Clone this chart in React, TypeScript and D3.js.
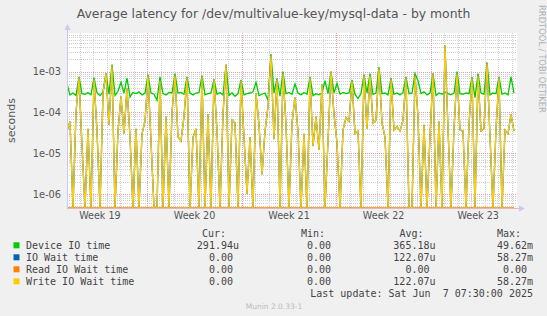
import React from 'react';
import * as d3 from 'd3';

const W = 547;
const H = 316;
const plot = { left: 67, right: 517, top: 33, bottom: 208 };

const title = 'Average latency for /dev/multivalue-key/mysql-data - by month';
const yAxisLabel = 'seconds';
const sideLabel = 'RRDTOOL / TOBI OETIKER';
const footer = 'Munin 2.0.33-1';
const lastUpdate = 'Last update: Sat Jun  7 07:30:00 2025';

// time axis
const timeStart = new Date(Date.UTC(2025, 4, 6, 1, 30));
const timeEnd = new Date(Date.UTC(2025, 5, 8, 9, 0));
const weekStarts = [
  new Date(Date.UTC(2025, 4, 12)),
  new Date(Date.UTC(2025, 4, 19)),
  new Date(Date.UTC(2025, 4, 26)),
  new Date(Date.UTC(2025, 5, 2)),
];
const weekLabels = ['Week 19', 'Week 20', 'Week 21', 'Week 22', 'Week 23'];
const weekLabelTimes = [
  new Date(Date.UTC(2025, 4, 8, 12)),
  new Date(Date.UTC(2025, 4, 15, 12)),
  new Date(Date.UTC(2025, 4, 22, 12)),
  new Date(Date.UTC(2025, 4, 29, 12)),
  new Date(Date.UTC(2025, 5, 5, 12)),
];
const sampleStepHours = 5.33;

// y axis (log)
const yDomain = [4.54e-7, 8.89e-3];
const yTickValues = [1e-6, 1e-5, 1e-4, 1e-3];
const yTickLabels = ['1e-06', '1e-05', '1e-04', '1e-03'];

// series (seconds)
const deviceIOTime = [
  5e-4, 2.7e-4, 3.0e-4, 2.6e-4, 7.5e-4, 2.9e-4, 2.8e-4, 3.1e-4, 2.7e-4, 7.2e-4,
  3.0e-4, 2.6e-4, 3.2e-4, 9.0e-4, 2.8e-4, 1.5e-3, 2.6e-4, 3.3e-4, 5.5e-4, 3.0e-4,
  7.0e-4, 2.4e-4, 3.1e-4, 2.9e-4, 3.2e-4, 2.7e-4, 3.0e-4, 8.5e-4, 3.0e-4, 2.8e-4,
  2.0e-4, 7.5e-4, 2.9e-4, 2.7e-4, 3.1e-4, 3.0e-4, 9.0e-4, 3.0e-4, 3.1e-4,
  2.8e-4, 7.5e-4, 3.0e-4, 2.7e-4, 3.0e-4, 3.1e-4, 8e-4, 2.7e-4, 2.9e-4, 3.0e-4,
  6.5e-4, 2.8e-4, 3.1e-4, 2.7e-4, 1.4e-3, 2.6e-4, 3.0e-4, 2.5e-4, 2.9e-4, 6.3e-4,
  2.7e-4, 2.9e-4, 3.0e-4, 3.2e-4, 5.5e-4, 2.6e-4, 2.8e-4, 3.0e-4, 2.0e-4, 2.7e-3,
  3.0e-4, 6.9e-4, 2.5e-4, 1.0e-3, 2.9e-4, 3.1e-4, 2.8e-4, 5e-4,
  3.0e-4, 2.7e-4, 3.1e-4, 2.8e-4, 7.5e-4, 2.6e-4, 2.9e-4, 2.7e-4, 3.0e-4, 6e-4,
  2.9e-4, 1.0e-3, 3.0e-4, 5.2e-4, 2.8e-4, 3.1e-4, 2.9e-4, 3.0e-4, 6.3e-4, 2.8e-4,
  2.2e-4, 2.9e-4, 8.5e-4, 3.0e-4, 9e-4, 2.8e-4, 3.0e-4, 1.3e-3, 2.9e-4, 3.0e-4,
  2.7e-4, 7e-4, 2.8e-4, 3.0e-4, 2.7e-4, 3.1e-4, 7.5e-4, 2.9e-4,
  3.0e-4, 9e-4, 6e-4, 2.9e-4, 3.2e-4, 2.7e-4, 3.0e-4, 9e-4, 2.6e-4, 3.0e-4,
  2.8e-4, 3.2e-4, 2.9e-4, 2.7e-4, 3.0e-4, 1.0e-3, 2.9e-4, 2.8e-4, 3.0e-4, 2.9e-4,
  7.5e-4, 2.3e-4, 9e-4, 3.0e-4, 2.8e-4, 1.7e-3, 2.7e-4, 3.0e-4, 2.9e-4, 7.5e-4,
  2.8e-4, 3.0e-4, 2.7e-4, 7.5e-4, 3.0e-4,
];

const writeIOWaitTime = [
  3.5e-5, 6e-5, 0, 1e-4, 7e-4, 1.5e-5, 0, 4e-5, 0, 6.5e-4,
  3.5e-5, 0, 3e-4, 9e-4, 5e-5, 1.4e-3, 0, 3.5e-5, 2.5e-4, 3e-5,
  4e-4, 2.5e-5, 0, 4e-5, 0, 3e-5, 6e-5, 8e-4, 2e-5, 0,
  0, 6e-4, 0, 8e-5, 0, 1e-4, 8e-4, 2.5e-5, 2e-5,
  8e-5, 7e-4, 0, 2.5e-5, 4e-5, 0, 7.5e-4, 0, 9e-5, 0,
  6.5e-4, 3.5e-5, 0, 9e-5, 1.5e-3, 0, 6.5e-5, 5.5e-5, 0, 6e-4,
  2.5e-5, 1e-6, 2.5e-5, 0, 3e-4, 5e-5, 3e-6, 3.5e-5, 1.4e-4, 2.5e-3,
  2.2e-5, 6.5e-4, 0, 9e-4, 5e-5, 0, 5.5e-5, 2.4e-4,
  3.5e-5, 0, 3e-5, 0, 7e-4, 1.5e-5, 8e-5, 1.2e-5, 5e-4, 0,
  2e-5, 1e-3, 9e-5, 1.8e-5, 0, 3.7e-5, 7.5e-5, 6e-5, 6e-4, 3e-5,
  3.5e-5, 0, 8e-4, 4e-5, 8e-4, 5.5e-5, 6.5e-5, 1.2e-3, 5.5e-5, 2.5e-5,
  0, 6.5e-4, 3.7e-5, 4.5e-5, 3.5e-5, 6.5e-5, 7e-4, 0,
  0, 8e-4, 8e-5, 0, 5e-5, 0, 2.5e-5, 9e-4, 0, 6e-5,
  0, 4.5e-3, 4e-5, 0, 4e-5, 9e-4, 3.7e-5, 3.5e-5, 0, 5e-5,
  7e-4, 0, 8e-4, 3.5e-5, 4e-5, 1.6e-3, 2.5e-5, 0, 4e-5, 7e-4,
  0, 3.7e-5, 3e-5, 9e-5, 3.5e-5,
];
const readIOWaitTime = new Array(writeIOWaitTime.length).fill(0);
const ioWaitTime = writeIOWaitTime;

const seriesNames = ['Device IO time', 'IO Wait time', 'Read IO Wait time', 'Write IO Wait time'];
const seriesColors = ['#00cc00', '#0066b3', '#ff8000', '#ffcc00'];
const curValues = ['291.94u', '0.00', '0.00', '0.00'];
const minValues = ['0.00', '0.00', '0.00', '0.00'];
const avgValues = ['365.18u', '122.07u', '0.00', '122.07u'];
const maxValues = ['49.62m', '58.27m', '0.00', '58.27m'];
const headers = ['Cur:', 'Min:', 'Avg:', 'Max:'];

const SANS = 'DejaVu Sans, sans-serif';
const MONO = 'DejaVu Sans Mono, monospace';

export default function App() {
  const x = d3.scaleTime().domain([timeStart, timeEnd]).range([plot.left, plot.right]);
  const y = d3.scaleLog().domain(yDomain).range([plot.bottom, plot.top]);
  const times = deviceIOTime.map((_, i) => new Date(timeStart.getTime() + i * sampleStepHours * 3600e3));
  const yv = (v: number) => (v > 0 ? y(Math.max(v, yDomain[0] * 0.5)) : plot.bottom);

  const mkLine = (vals: number[]) =>
    d3
      .line<number>()
      .x((_, i) => x(times[i]))
      .y((v) => yv(v))(vals) || '';

  // grid
  const days = d3.utcDay.range(timeStart, timeEnd);
  const weekSet = new Set(weekStarts.map((d) => d.getTime()));
  const minorY: number[] = [];
  const majorY: number[] = [];
  for (let e = -7; e <= -2; e++) {
    for (let k = 1; k <= 9; k++) {
      const v = k * Math.pow(10, e);
      if (v < yDomain[0] || v > yDomain[1]) continue;
      (k === 1 ? majorY : minorY).push(v);
    }
  }

  const colEnds = [239, 337, 435.5, 533];
  const headerX = [202, 301, 399.5, 497];
  const charW = 6.02;
  const valX = (s: string, end: number) => (/[0-9]$/.test(s) ? end - charW : end);
  const rowY = [245.3, 257.3, 269.3, 281.3];

  return (
    <svg width={W} height={H} style={{ display: 'block', position: 'absolute', left: 0, top: 0 }}>
      <rect x={0} y={0} width={W} height={H} fill="#f0f0f0" />
      <text x={W / 2} y={18} textAnchor="middle" fontFamily={SANS} fontSize={12.4} fill="#555">
        {title}
      </text>
      <text
        transform={`translate(539,5) rotate(90)`}
        fontFamily={SANS}
        fontSize={8.4}
        fill="#b0b0b0"
      >
        {sideLabel}
      </text>
      <text
        transform={`translate(14.5,${(plot.top + plot.bottom) / 2}) rotate(-90)`}
        textAnchor="middle"
        fontFamily={SANS}
        fontSize={11}
        fill="#555"
      >
        {yAxisLabel}
      </text>

      <rect x={plot.left} y={plot.top} width={plot.right - plot.left} height={plot.bottom - plot.top} fill="#ffffff" />

      {minorY.map((v, i) => (
        <line key={'my' + i} x1={plot.left} x2={plot.right} y1={Math.round(y(v)) + 0.5} y2={Math.round(y(v)) + 0.5}
          stroke="#cfcfcf" strokeDasharray="1 1" />
      ))}
      {days.filter((d) => !weekSet.has(d.getTime())).map((d, i) => (
        <line key={'dx' + i} x1={Math.round(x(d)) + 0.5} x2={Math.round(x(d)) + 0.5} y1={plot.top} y2={plot.bottom}
          stroke="#cfcfcf" strokeDasharray="1 1" />
      ))}
      {majorY.map((v, i) => (
        <line key={'My' + i} x1={plot.left} x2={plot.right} y1={Math.round(y(v)) + 0.5} y2={Math.round(y(v)) + 0.5}
          stroke="#e5a0a0" strokeDasharray="1 1" />
      ))}
      {weekStarts.map((d, i) => (
        <line key={'wx' + i} x1={Math.round(x(d)) + 0.5} x2={Math.round(x(d)) + 0.5} y1={plot.top} y2={plot.bottom}
          stroke="#e5a0a0" strokeDasharray="1 1" />
      ))}

      <defs>
        <clipPath id="plotclip">
          <rect x={plot.left} y={plot.top} width={plot.right - plot.left} height={plot.bottom - plot.top + 1} />
        </clipPath>
      </defs>
      <g clipPath="url(#plotclip)" fill="none">
        <path d={mkLine(deviceIOTime)} stroke={seriesColors[0]} strokeWidth={1.3} />
        <path d={mkLine(ioWaitTime)} stroke={seriesColors[1]} strokeWidth={1.3} />
        <path d={mkLine(readIOWaitTime)} stroke={seriesColors[2]} strokeWidth={1.3} />
        <path d={mkLine(writeIOWaitTime)} stroke={seriesColors[3]} strokeWidth={1.3} />
      </g>

      <line x1={plot.left + 0.5} x2={plot.left + 0.5} y1={plot.bottom} y2={plot.top - 4} stroke="#c8c8f0" />
      <path d={`M${plot.left - 2.5},${plot.top - 3} L${plot.left + 3.5},${plot.top - 3} L${plot.left + 0.5},${plot.top - 9} Z`} fill="#c8c8f0" />
      <line x1={plot.left} x2={plot.right + 3} y1={plot.bottom + 0.5} y2={plot.bottom + 0.5} stroke="#e8b8a8" />
      <path d={`M${plot.right + 2},${plot.bottom - 2.5} L${plot.right + 2},${plot.bottom + 3.5} L${plot.right + 8},${plot.bottom + 0.5} Z`} fill="#c8c8f0" />

      {yTickValues.map((v, i) => (
        <text key={'yt' + i} x={61} y={y(v) + 3.5} textAnchor="end" fontFamily={SANS} fontSize={9.8} fill="#555">
          {yTickLabels[i]}
        </text>
      ))}
      {weekLabelTimes.map((d, i) => (
        <text key={'xt' + i} x={x(d)} y={219} textAnchor="middle" fontFamily={SANS} fontSize={9.6} fill="#555">
          {weekLabels[i]}
        </text>
      ))}

      {headers.map((h, i) => (
        <text key={'h' + i} x={headerX[i]} y={236.8} fontFamily={MONO} fontSize={10} fill="#444">
          {h}
        </text>
      ))}
      {seriesNames.map((n, r) => (
        <g key={'lg' + r}>
          <rect x={13.5} y={rowY[r] - 3} width={6} height={6} fill={seriesColors[r]} />
          <text x={26} y={rowY[r] + 3.5} fontFamily={MONO} fontSize={10} fill="#444">
            {n}
          </text>
          {[curValues, minValues, avgValues, maxValues].map((col, c) => (
            <text key={'v' + c} x={valX(col[r], colEnds[c])} y={rowY[r] + 3.5} textAnchor="end" fontFamily={MONO} fontSize={10} fill="#444">
              {col[r]}
            </text>
          ))}
        </g>
      ))}
      <text x={533} y={296.8} textAnchor="end" fontFamily={MONO} fontSize={10} fill="#444" style={{ whiteSpace: 'pre' }}>
        {lastUpdate}
      </text>
      <text x={274} y={309} textAnchor="middle" fontFamily={SANS} fontSize={7.5} fill="#bbbbbb">
        {footer}
      </text>
    </svg>
  );
}
